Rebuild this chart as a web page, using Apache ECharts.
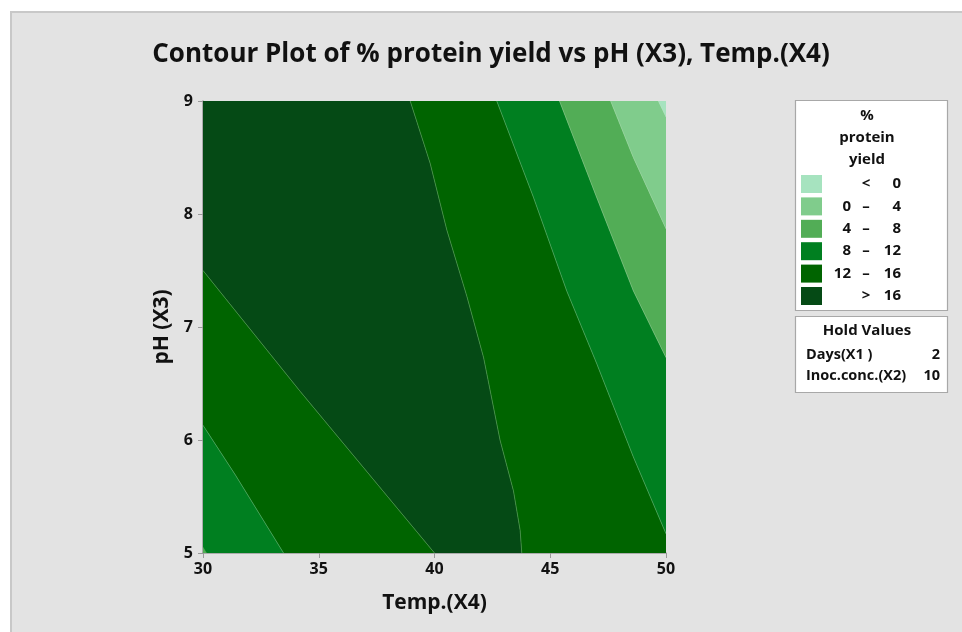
<!DOCTYPE html>
<html>
<head>
<meta charset="utf-8">
<script src="https://cdn.jsdelivr.net/npm/echarts@6/dist/echarts.min.js"></script>
<style>
  html, body { margin: 0; padding: 0; background: #fff; }
  #chart { width: 962px; height: 632px; }
</style>
</head>
<body>
<div id="chart"></div>
<script>
// axes
const tempRange = [30, 50];
const phRange = [5, 9];

// legend levels, light -> dark
const levelLabels = [['', '<', '0'], ['0', '–', '4'], ['4', '–', '8'], ['8', '–', '12'], ['12', '–', '16'], ['', '>', '16']];
const levelColors = ['#a6e3bf', '#80cc8c', '#52ad56', '#007f20', '#006400', '#054a15'];

// contour boundaries, [temp, pH]
const bLeft8 = [[30, 6.13], [31.4, 5.69], [33.48, 5]];
const bLeft12 = [[30, 7.5], [34.2, 6.43], [40, 5]];
const bMid16 = [[38.95, 9], [39.81, 8.45], [40.53, 7.86], [41.4, 7.27], [42.12, 6.73], [42.83, 6.0], [43.41, 5.55], [43.7, 5.2], [43.77, 5]];
const bRight12 = [[42.69, 9], [44.27, 8.15], [45.71, 7.32], [47.0, 6.68], [48.59, 5.85], [50, 5.17]];
const bRight8 = [[45.4, 9], [47.0, 8.15], [48.59, 7.32], [50, 6.73]];
const bRight4 = [[47.61, 9], [48.59, 8.5], [50, 7.87]];
const bRight0 = [[49.67, 9], [50, 8.86]];
const cornerLeft4 = [[30, 5.05], [30.15, 5]];

// hold values
const holdNames = ['Days(X1 )', 'Inoc.conc.(X2)'];
const holdValues = ['2', '10'];

const rev = a => a.slice().reverse();

// [level index, polygon]
const regions = [
  [5, [[30, 9], ...bMid16, ...rev(bLeft12)]],
  [4, [...bLeft12, ...rev(bLeft8)]],
  [3, [...bLeft8, [30, 5]]],
  [2, [...cornerLeft4, [30, 5]]],
  [4, [...bMid16, [50, 5], ...rev(bRight12)]],
  [3, [...bRight12, ...rev(bRight8)]],
  [2, [...bRight8, ...rev(bRight4)]],
  [1, [...bRight4, ...rev(bRight0)]],
  [0, [...bRight0, [50, 9]]]
];

const font = '"Open Sans", "Noto Sans", sans-serif';
const txt = '#111';

const chart = echarts.init(document.getElementById('chart'));

const lineSeries = [bLeft8, bLeft12, bMid16, bRight12, bRight8, bRight4, bRight0].map(b => ({
  type: 'line',
  data: b,
  symbol: 'none',
  silent: true,
  z: 3,
  lineStyle: { width: 0.7, color: 'rgba(190,230,190,0.45)' }
}));

// legend graphics
const lf = 'bold 15px ' + font;
const lg = [];
lg.push({ type: 'rect', shape: { x: 795.5, y: 100.5, width: 152, height: 210 }, style: { fill: '#fff', stroke: '#a8a8a8', lineWidth: 1.2 } });
lg.push({ type: 'rect', shape: { x: 795.5, y: 316.5, width: 152, height: 76 }, style: { fill: '#fff', stroke: '#a8a8a8', lineWidth: 1.2 } });
['%', 'protein', 'yield'].forEach((t, i) => {
  lg.push({ type: 'text', x: 867, y: 116 + i * 22, style: { text: t, font: lf, fill: txt, align: 'center', verticalAlign: 'middle' } });
});
levelLabels.forEach((lab, i) => {
  const y = 175 + i * 22.4;
  lg.push({ type: 'rect', shape: { x: 801, y: y, width: 21, height: 18 }, style: { fill: levelColors[i] } });
  const cy = y + 9;
  lg.push({ type: 'text', x: 851, y: cy, style: { text: lab[0], font: lf, fill: txt, align: 'right', verticalAlign: 'middle' } });
  lg.push({ type: 'text', x: 866, y: cy, style: { text: lab[1], font: lf, fill: txt, align: 'center', verticalAlign: 'middle' } });
  lg.push({ type: 'text', x: 901, y: cy, style: { text: lab[2], font: lf, fill: txt, align: 'right', verticalAlign: 'middle' } });
});
lg.push({ type: 'text', x: 867, y: 331, style: { text: 'Hold Values', font: lf, fill: txt, align: 'center', verticalAlign: 'middle' } });
holdNames.forEach((n, i) => {
  lg.push({ type: 'text', x: 806, y: 355 + i * 21, style: { text: n, font: 'bold 14.5px ' + font, fill: txt, align: 'left', verticalAlign: 'middle' } });
  lg.push({ type: 'text', x: 940, y: 355 + i * 21, style: { text: holdValues[i], font: 'bold 14.5px ' + font, fill: txt, align: 'right', verticalAlign: 'middle' } });
});

chart.setOption({
  backgroundColor: '#fff',
  animation: false,
  graphic: [
    { type: 'rect', z: -10, shape: { x: 11, y: 12, width: 960, height: 630 }, style: { fill: '#e3e3e3', stroke: '#c8c8c8', lineWidth: 2 } },
    { type: 'text', x: 491, y: 55, style: { text: 'Contour Plot of % protein yield vs pH (X3), Temp.(X4)', font: 'bold 26px ' + font, fill: txt, align: 'center', verticalAlign: 'middle' } },
    ...lg
  ],
  grid: { left: 203, top: 101, width: 463, height: 452 },
  xAxis: {
    type: 'value', min: tempRange[0], max: tempRange[1], interval: 5,
    name: 'Temp.(X4)', nameLocation: 'middle', nameGap: 40,
    nameTextStyle: { fontFamily: font, fontSize: 21, fontWeight: 'bold', color: txt },
    axisLine: { lineStyle: { color: '#9a9a9a', width: 1.5 } },
    axisTick: { show: true, length: 5, lineStyle: { color: '#9a9a9a' } },
    axisLabel: { fontFamily: font, fontSize: 16, fontWeight: 'bold', color: txt, margin: 8 },
    splitLine: { show: false }
  },
  yAxis: {
    type: 'value', min: phRange[0], max: phRange[1], interval: 1,
    name: 'pH (X3)', nameLocation: 'middle', nameGap: 30,
    nameTextStyle: { fontFamily: font, fontSize: 21, fontWeight: 'bold', color: txt },
    axisLine: { show: true, lineStyle: { color: '#9a9a9a', width: 1.5 } },
    axisTick: { show: true, length: 5, lineStyle: { color: '#9a9a9a' } },
    axisLabel: { fontFamily: font, fontSize: 16, fontWeight: 'bold', color: txt, margin: 10 },
    splitLine: { show: false }
  },
  series: [
    {
      type: 'custom',
      data: regions.map((r, i) => [i, r[0]]),
      silent: true,
      z: 2,
      clip: true,
      renderItem: function (params, api) {
        const reg = regions[params.dataIndex];
        return {
          type: 'polygon',
          shape: { points: reg[1].map(p => api.coord(p)) },
          style: { fill: levelColors[reg[0]], stroke: levelColors[reg[0]], lineWidth: 0.5 }
        };
      }
    },
    ...lineSeries
  ]
});
</script>
</body>
</html>
